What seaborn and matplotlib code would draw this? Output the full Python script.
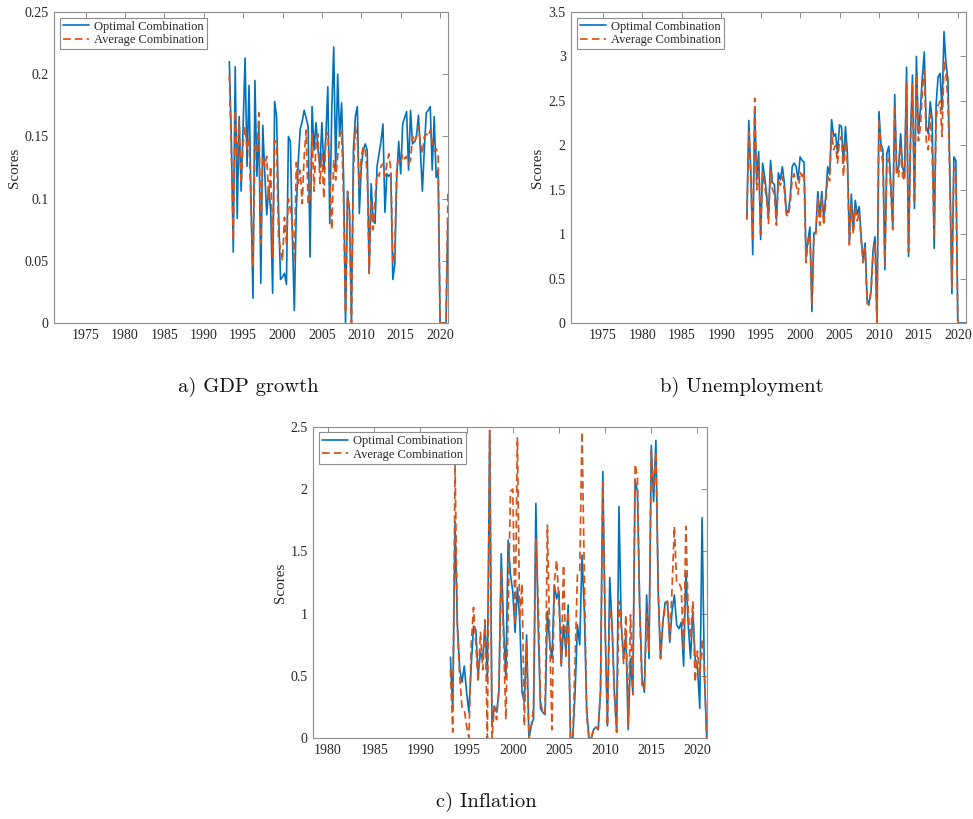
import numpy as np
import pandas as pd
import matplotlib
matplotlib.use("Agg")
import matplotlib.pyplot as plt
from matplotlib.ticker import FuncFormatter, MultipleLocator
import seaborn as sns

# ---------------- data (quarterly, 1993Q2 .. 2021Q1) ----------------
dates = np.arange(1993.25, 2021.01, 0.25)

gdp_optimal = [
    0.210, 0.150, 0.057, 0.206, 0.084, 0.166, 0.106, 0.158, 0.213, 0.126,
    0.191, 0.100, 0.020, 0.195, 0.118, 0.158, 0.032, 0.159, 0.120, 0.087,
    0.110, 0.090, 0.024, 0.178, 0.166, 0.090, 0.035, 0.037, 0.040, 0.031,
    0.150, 0.146, 0.070, 0.010, 0.091, 0.130, 0.156, 0.162, 0.171, 0.165,
    0.158, 0.053, 0.174, 0.139, 0.161, 0.140, 0.125, 0.161, 0.123, 0.150,
    0.190, 0.080, 0.170, 0.222, 0.123, 0.200, 0.150, 0.177, 0.118, 0.000,
    0.104, 0.091, 0.000, 0.139, 0.166, 0.174, 0.088, 0.126, 0.139, 0.144,
    0.139, 0.040, 0.112, 0.083, 0.080, 0.126, 0.136, 0.146, 0.160, 0.089,
    0.120, 0.118, 0.120, 0.035, 0.047, 0.118, 0.146, 0.120, 0.160, 0.165,
    0.170, 0.123, 0.171, 0.144, 0.146, 0.150, 0.167, 0.139, 0.106, 0.140,
    0.169, 0.171, 0.174, 0.123, 0.166, 0.117, 0.123, 0.000, 0.000, 0.000,
    0.000, 0.083,
]
gdp_average = [
    0.199, 0.140, 0.067, 0.171, 0.131, 0.163, 0.112, 0.145, 0.158, 0.139,
    0.150, 0.091, 0.045, 0.142, 0.136, 0.169, 0.064, 0.134, 0.126, 0.134,
    0.100, 0.126, 0.053, 0.147, 0.142, 0.069, 0.059, 0.050, 0.085, 0.064,
    0.100, 0.091, 0.080, 0.048, 0.129, 0.112, 0.123, 0.096, 0.134, 0.155,
    0.096, 0.100, 0.152, 0.106, 0.145, 0.152, 0.112, 0.136, 0.100, 0.150,
    0.153, 0.115, 0.075, 0.131, 0.115, 0.134, 0.150, 0.154, 0.099, 0.008,
    0.106, 0.088, 0.000, 0.120, 0.158, 0.147, 0.109, 0.134, 0.142, 0.139,
    0.120, 0.040, 0.099, 0.075, 0.100, 0.120, 0.118, 0.126, 0.128, 0.118,
    0.128, 0.136, 0.123, 0.048, 0.060, 0.126, 0.131, 0.128, 0.136, 0.132,
    0.134, 0.128, 0.131, 0.150, 0.145, 0.150, 0.158, 0.145, 0.136, 0.150,
    0.152, 0.150, 0.155, 0.145, 0.138, 0.140, 0.136, 0.000, 0.000, 0.000,
    0.000, 0.107,
]

unemp_optimal = [
    1.17, 2.28, 1.72, 0.77, 2.40, 1.61, 1.93, 0.94, 1.80, 1.65,
    1.46, 1.20, 1.83, 1.58, 1.56, 1.16, 1.69, 1.61, 1.76, 1.58,
    1.27, 1.24, 1.42, 1.76, 1.80, 1.76, 1.61, 1.87, 1.83, 1.81,
    0.75, 0.93, 1.08, 0.13, 1.01, 1.03, 1.48, 1.20, 1.48, 1.18,
    1.42, 1.76, 1.67, 2.29, 2.10, 2.13, 1.91, 2.23, 2.21, 1.80,
    2.21, 1.91, 0.90, 1.45, 1.05, 1.38, 1.22, 1.31, 0.97, 0.71,
    0.90, 0.26, 0.22, 0.37, 0.82, 0.97, 0.00, 2.38, 2.02, 1.95,
    0.60, 1.91, 1.99, 1.57, 1.08, 2.57, 1.69, 1.76, 2.13, 1.76,
    1.65, 2.88, 0.75, 2.10, 2.79, 1.29, 3.00, 2.13, 2.40, 2.77,
    3.05, 2.21, 2.13, 2.49, 2.29, 0.84, 2.46, 2.77, 2.81, 2.40,
    3.28, 2.92, 2.74, 1.65, 0.33, 1.87, 1.83, 0.00, 0.00, 0.00,
    0.00, 0.00,
]
unemp_average = [
    1.17, 2.15, 1.65, 0.95, 2.53, 1.50, 1.80, 1.00, 1.70, 1.55,
    1.40, 1.12, 1.72, 1.50, 1.45, 1.10, 1.60, 1.55, 1.65, 1.50,
    1.22, 1.20, 1.35, 1.62, 1.68, 1.55, 1.45, 1.70, 1.65, 1.70,
    0.68, 0.90, 1.00, 0.20, 0.98, 1.00, 1.40, 1.10, 1.40, 1.10,
    1.35, 1.65, 1.60, 2.15, 1.95, 2.00, 1.80, 2.05, 2.10, 1.65,
    2.05, 1.80, 0.88, 1.35, 1.00, 1.30, 1.15, 1.25, 0.92, 0.68,
    0.85, 0.22, 0.20, 0.35, 0.78, 0.90, 0.00, 2.30, 1.95, 1.80,
    0.65, 1.80, 1.85, 1.50, 1.05, 2.45, 1.65, 1.65, 2.00, 1.65,
    1.60, 2.70, 0.80, 2.00, 2.70, 1.35, 2.80, 2.05, 2.20, 2.60,
    2.85, 2.05, 1.95, 2.35, 1.90, 0.95, 2.30, 2.45, 2.50, 2.10,
    2.95, 2.80, 2.50, 1.55, 0.40, 1.75, 1.70, 0.00, 0.00, 0.00,
    0.00, 0.00,
]

infl_optimal = [
    0.65, 0.24, 1.74, 0.91, 0.56, 0.45, 0.58, 0.37, 0.21, 0.58,
    0.90, 0.87, 0.51, 0.69, 0.64, 0.91, 0.48, 2.45, 0.10, 0.26,
    0.21, 0.37, 1.48, 0.91, 0.48, 1.59, 1.31, 1.18, 0.85, 1.21,
    0.96, 0.37, 0.29, 0.83, 0.00, 0.10, 0.16, 1.885, 0.91, 0.24,
    0.21, 0.19, 1.02, 0.77, 0.64, 1.23, 1.12, 1.18, 0.58, 0.91,
    0.70, 1.07, 0.00, 0.00, 0.37, 0.91, 0.75, 1.47, 1.02, 0.24,
    0.00, 0.00, 0.07, 0.09, 0.07, 0.37, 2.14, 0.91, 0.10, 1.29,
    0.91, 0.37, 0.05, 1.86, 0.91, 0.64, 0.83, 0.07, 0.64, 0.37,
    2.07, 1.98, 1.04, 0.48, 0.37, 1.15, 0.64, 2.35, 1.90, 2.39,
    1.18, 0.64, 0.93, 1.09, 1.10, 0.77, 1.02, 1.15, 0.91, 0.88,
    0.93, 0.58, 1.33, 0.91, 0.64, 1.02, 0.64, 0.58, 0.24, 1.77,
    0.51, 0.00,
]
infl_average = [
    0.55, 0.05, 2.20, 0.90, 0.50, 0.25, 0.23, 0.10, 0.00, 0.75,
    1.05, 0.75, 0.45, 0.85, 0.55, 0.95, 0.00, 2.47, 0.00, 0.25,
    0.15, 0.40, 1.35, 0.80, 0.15, 1.00, 1.98, 2.00, 0.91, 2.41,
    0.96, 1.24, 0.10, 0.77, 0.00, 0.10, 0.25, 1.60, 1.10, 0.30,
    0.20, 0.20, 1.71, 0.80, 0.07, 1.25, 1.43, 1.10, 0.60, 1.39,
    0.64, 1.02, 0.00, 0.00, 0.64, 1.31, 1.33, 2.46, 1.31, 0.19,
    0.00, 0.00, 0.07, 0.09, 0.07, 0.37, 2.05, 0.91, 0.10, 1.04,
    0.91, 0.37, 0.05, 1.10, 0.91, 0.60, 0.99, 0.10, 0.99, 0.35,
    2.20, 2.10, 1.00, 0.40, 0.40, 1.00, 0.70, 2.30, 2.00, 2.30,
    1.18, 0.64, 0.93, 1.05, 1.10, 0.80, 1.20, 1.70, 1.25, 1.25,
    1.20, 0.70, 1.70, 1.00, 0.80, 1.10, 0.45, 0.70, 0.50, 0.80,
    0.55, 0.00,
]

series_labels = ["Optimal Combination", "Average Combination"]
captions = ["a) GDP growth", "b) Unemployment", "c) Inflation"]
x_ticks_ab = [1975, 1980, 1985, 1990, 1995, 2000, 2005, 2010, 2015, 2020]
x_ticks_c = [1980, 1985, 1990, 1995, 2000, 2005, 2010, 2015, 2020]

# ---------------- style ----------------
sns.set_style("white")
plt.rcParams["font.family"] = ["Liberation Serif", "DejaVu Serif"]
plt.rcParams["axes.unicode_minus"] = False

BLUE = "#0072BD"
ORANGE = "#D95319"
SPINE = "#8c8c8c"
TXT = "#262626"

fig = plt.figure(figsize=(9.73, 8.19), dpi=100)

panels = [
    dict(rect=[0.0555, 0.6056, 0.4049, 0.3797], opt=gdp_optimal, avg=gdp_average,
         xlim=(1971, 2021), ylim=(0, 0.25), ystep=0.05, xticks=x_ticks_ab,
         ylab=-0.084, cap=captions[0], capxy=(0.2549, 0.5275)),
    dict(rect=[0.5872, 0.6056, 0.4053, 0.3797], opt=unemp_optimal, avg=unemp_average,
         xlim=(1971, 2021), ylim=(0, 3.5), ystep=0.5, xticks=x_ticks_ab,
         ylab=-0.069, cap=captions[1], capxy=(0.7626, 0.5275)),
    dict(rect=[0.322, 0.0985, 0.4043, 0.3805], opt=infl_optimal, avg=infl_average,
         xlim=(1978.4, 2021), ylim=(0, 2.5), ystep=0.5, xticks=x_ticks_c,
         ylab=-0.067, cap=captions[2], capxy=(0.4995, 0.0208)),
]

fmt = FuncFormatter(lambda v, p: "%g" % round(v, 6))

for pnl in panels:
    ax = fig.add_axes(pnl["rect"])
    df = pd.DataFrame({"Date": dates, "opt": pnl["opt"], "avg": pnl["avg"]})
    sns.lineplot(data=df, x="Date", y="opt", ax=ax, color=BLUE, lw=1.2,
                 label=series_labels[0])
    sns.lineplot(data=df, x="Date", y="avg", ax=ax, color=ORANGE, lw=1.25,
                 linestyle=(0, (4.4, 2.4)), label=series_labels[1])
    ax.set_xlim(*pnl["xlim"])
    ax.set_ylim(*pnl["ylim"])
    ax.set_xticks(pnl["xticks"])
    ax.yaxis.set_major_locator(MultipleLocator(pnl["ystep"]))
    ax.yaxis.set_major_formatter(fmt)
    ax.set_xlabel("")
    ax.set_ylabel("Scores", fontsize=10.8, color=TXT)
    ax.yaxis.set_label_coords(pnl["ylab"], 0.5)
    ax.tick_params(direction="in", top=True, right=True, length=4, width=0.7,
                   color=SPINE, labelcolor=TXT, labelsize=10, pad=4)
    for s in ax.spines.values():
        s.set_color(SPINE)
        s.set_linewidth(0.8)
    leg = ax.legend(loc="upper left", frameon=True, fancybox=False, framealpha=1,
                    edgecolor=SPINE, fontsize=9, handlelength=2.1,
                    borderaxespad=0.45, borderpad=0.25, labelspacing=0.1,
                    handletextpad=0.4)
    leg.get_frame().set_linewidth(0.8)
    for t in leg.get_texts():
        t.set_color(TXT)
    fig.text(pnl["capxy"][0], pnl["capxy"][1], pnl["cap"], fontfamily="cmr10",
             fontsize=14.8, ha="center", va="center", color="#111111")

fig.savefig("out.png", dpi=100)
